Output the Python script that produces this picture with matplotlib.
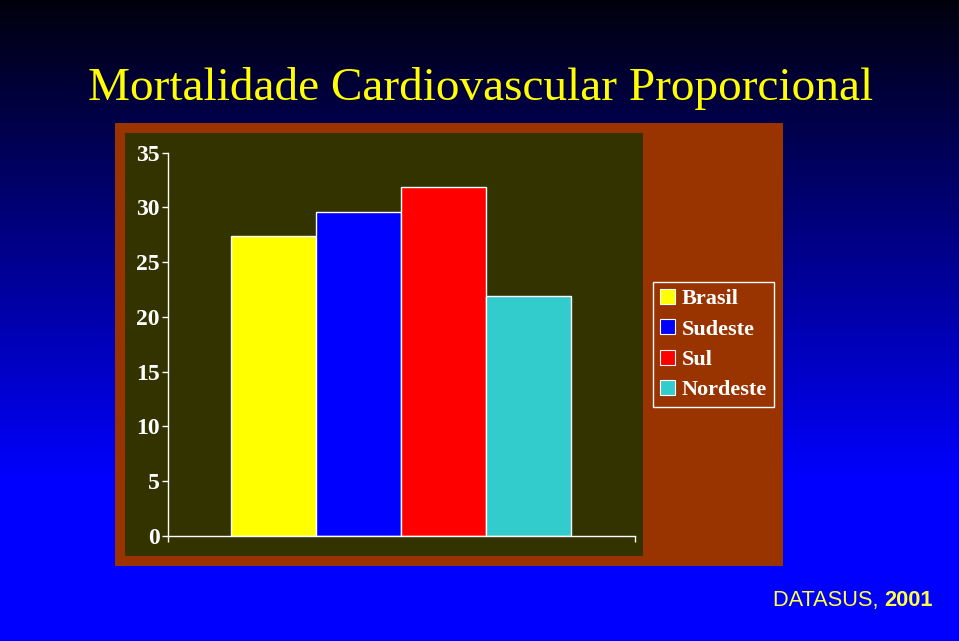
import matplotlib
matplotlib.use('Agg')
import matplotlib.pyplot as plt
from matplotlib.patches import Rectangle, Patch
import numpy as np

# dados
regioes = ['Brasil', 'Sudeste', 'Sul', 'Nordeste']
valores = [27.4, 29.6, 31.9, 21.9]
cores = ['#ffff00', '#0000ff', '#ff0000', '#33cccc']
yticks = [0, 5, 10, 15, 20, 25, 30, 35]

W, H = 959, 641
fig = plt.figure(figsize=(W / 100, H / 100), dpi=100)

# fundo em degradê (preto -> azul)
bg = fig.add_axes([0, 0, 1, 1], zorder=-10)
rows = np.linspace(0, 1, H)
blue = np.clip(12 / 255 + rows * (H / 480) * (1 - 12 / 255), 0, 1)
grad = np.zeros((H, 1, 3))
grad[:, 0, 2] = blue
bg.imshow(grad, aspect='auto', extent=[0, 1, 1, 0])
bg.set_xlim(0, 1)
bg.set_ylim(1, 0)
bg.axis('off')


def fig_rect(x0, y0, x1, y1, color):
    # retângulo em pixels (origem no canto superior esquerdo)
    fig.patches.append(Rectangle((x0 / W, 1 - y1 / H), (x1 - x0) / W, (y1 - y0) / H,
                                 transform=fig.transFigure, facecolor=color,
                                 edgecolor='none', zorder=-5))


fig_rect(115, 123, 783, 566, '#993300')
fig_rect(125, 133, 643, 556, '#333300')

# eixo principal
ax = fig.add_axes([168 / W, 1 - 536 / H, (635 - 168) / W, (536 - 152.7) / H])
ax.patch.set_visible(False)
x = np.arange(len(regioes))
ax.bar(x, valores, width=1.0, color=cores, edgecolor='#ffffff', linewidth=1.0)
ax.set_xlim(-1.241, 4.253)
ax.set_ylim(0, 35)
ax.set_yticks(yticks)
ax.set_yticklabels([str(t) for t in yticks], fontsize=17, fontweight='bold',
                   family='Liberation Serif', color='white')
ax.set_xticks([-1.241, 4.253])
ax.set_xticklabels(['', ''])
ax.tick_params(axis='both', colors='white', length=4, width=1, direction='out', pad=2)
for s in ['top', 'right']:
    ax.spines[s].set_visible(False)
for s in ['left', 'bottom']:
    ax.spines[s].set_color('white')
    ax.spines[s].set_linewidth(1)

# legenda
handles = [Patch(facecolor=c, edgecolor='white', linewidth=0.8) for c in cores]
leg = fig.legend(handles, regioes, loc='upper left',
                 bbox_to_anchor=(653 / W, 1 - 282 / H),
                 prop={'family': 'Liberation Serif', 'weight': 'bold', 'size': 16},
                 labelcolor='white', frameon=True, fancybox=False,
                 facecolor='#993300', edgecolor='white', framealpha=1,
                 handlelength=0.68, handleheight=0.68, handletextpad=0.32,
                 labelspacing=0.45, borderpad=0.3, borderaxespad=0)
leg.get_frame().set_linewidth(1)

# título
fig.text(88 / W, 1 - 100 / H, 'Mortalidade Cardiovascular Proporcional',
         fontsize=34, family='Liberation Serif', color='#ffff00',
         ha='left', va='baseline')

# fonte
t1 = fig.text(773 / W, 1 - 606 / H, 'DATASUS, ', fontsize=15.7,
              family='Liberation Sans', color='#ffff44', ha='left', va='baseline')
fig.canvas.draw()
bb = t1.get_window_extent()
fig.text(bb.x1 / W, 1 - 606 / H, '2001', fontsize=15.7, fontweight='bold',
         family='Liberation Sans', color='#ffff44', ha='left', va='baseline')

fig.savefig('out.png', dpi=100)
